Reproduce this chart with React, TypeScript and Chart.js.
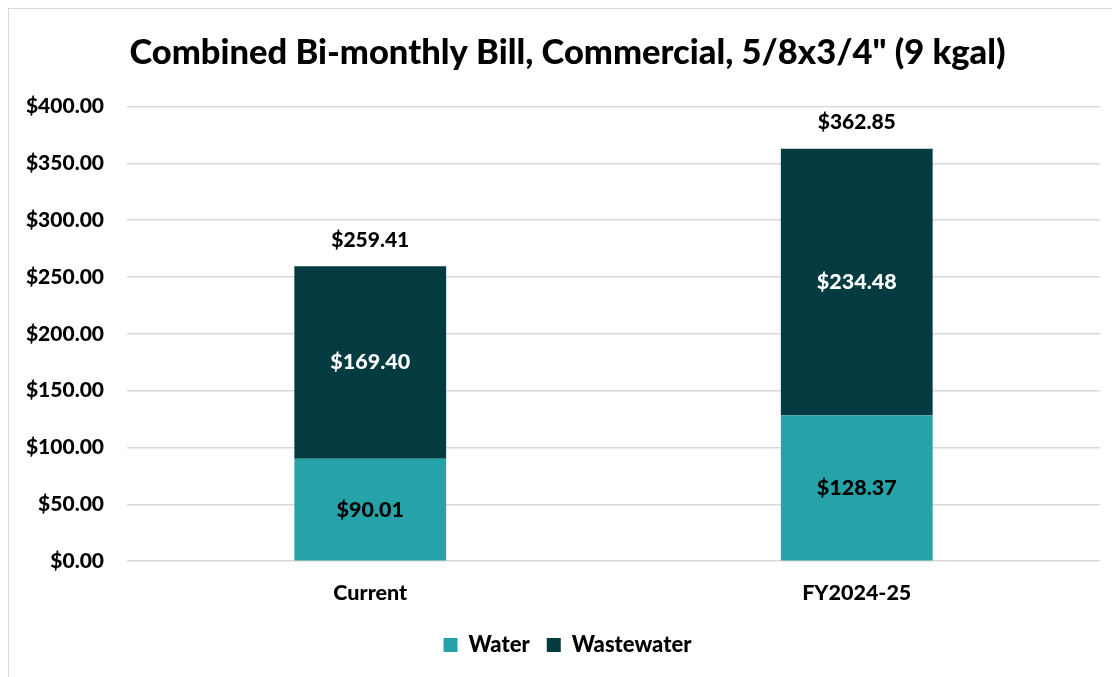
import React, { useEffect, useRef } from "react";
import { Chart, registerables } from "chart.js";

Chart.register(...registerables);

const categories = ["Current", "FY2024-25"];
const waterValues = [90.01, 128.37];
const wastewaterValues = [169.4, 234.48];
const totalValues = [259.41, 362.85];
const yTicks = [0, 50, 100, 150, 200, 250, 300, 350, 400];

const FONT = "Lato, 'Open Sans', sans-serif";
const W = "900";
const WATER = "#26a2a9";
const WASTE = "#043b40";

const fmt = (v: number) => "$" + v.toFixed(2);

const labelPlugin = {
  id: "barLabels",
  afterDatasetsDraw(chart: any) {
    const ctx = chart.ctx;
    ctx.save();
    ctx.textAlign = "center";
    ctx.textBaseline = "middle";
    chart.data.datasets.forEach((ds: any, di: number) => {
      const meta = chart.getDatasetMeta(di);
      meta.data.forEach((bar: any, i: number) => {
        const cy = (bar.y + bar.base) / 2;
        ctx.font = `${W} 21.5px ${FONT}`;
        ctx.fillStyle = di === 0 ? "#000000" : "#ffffff";
        ctx.fillText(fmt(ds.data[i]), bar.x, cy);
      });
    });
    const yScale = chart.scales.y;
    const meta0 = chart.getDatasetMeta(0);
    totalValues.forEach((t, i) => {
      const x = meta0.data[i].x;
      const y = yScale.getPixelForValue(t) - 26;
      ctx.font = `${W} 21px ${FONT}`;
      ctx.fillStyle = "#000000";
      ctx.fillText(fmt(t), x, y);
    });
    ctx.restore();
  },
};

export default function App() {
  const ref = useRef<HTMLCanvasElement>(null);
  useEffect(() => {
    const chart = new Chart(ref.current!, {
      type: "bar",
      data: {
        labels: categories,
        datasets: [
          { label: "Water", data: waterValues, backgroundColor: WATER, barPercentage: 0.312, categoryPercentage: 1 },
          { label: "Wastewater", data: wastewaterValues, backgroundColor: WASTE, barPercentage: 0.312, categoryPercentage: 1 },
        ],
      },
      options: {
        animation: false,
        responsive: false,
        maintainAspectRatio: false,
        layout: { padding: { left: 10, right: 4, top: 0, bottom: 11 } },
        plugins: {
          title: {
            display: true,
            text: 'Combined Bi-monthly Bill, Commercial, 5/8x3/4" (9 kgal)',
            color: "#000000",
            font: { family: FONT, size: 34.5, weight: W },
            padding: { top: 23, bottom: 33 },
          },
          legend: {
            position: "bottom",
            labels: {
              color: "#000000",
              font: { family: FONT, size: 22, weight: W },
              boxWidth: 14,
              boxHeight: 14,
              padding: 17,
            },
          },
          tooltip: { enabled: false },
        },
        scales: {
          x: {
            stacked: true,
            grid: { display: false },
            border: { display: false },
            ticks: { color: "#000000", font: { family: FONT, size: 21.5, weight: W }, padding: 11 },
          },
          y: {
            stacked: true,
            min: 0,
            max: 400,
            afterBuildTicks: (scale: any) => {
              scale.ticks = yTicks.map((v) => ({ value: v }));
            },
            afterFit: (scale: any) => {
              scale.width = 108;
            },
            grid: { color: "#d9d9d9", lineWidth: 1.5, drawTicks: false },
            border: { display: false },
            ticks: {
              color: "#000000",
              font: { family: FONT, size: 21, weight: W },
              padding: 23,
              callback: (v: any) => fmt(Number(v)),
            },
          },
          yRightSpacer: {
            type: "linear",
            position: "right",
            display: true,
            grid: { display: false },
            border: { display: false },
            ticks: { display: false },
            afterFit: (scale: any) => {
              scale.width = 16;
            },
          },
        },
      },
      plugins: [labelPlugin],
    });
    return () => chart.destroy();
  }, []);
  return (
    <div
      style={{
        width: 1112,
        height: 669,
        borderLeft: "1px solid #d9d9d9",
        borderTop: "1px solid #d9d9d9",
        overflow: "hidden",
        background: "#ffffff",
      }}
    >
      <canvas ref={ref} width={1111} height={668} style={{ display: "block" }} />
    </div>
  );
}
